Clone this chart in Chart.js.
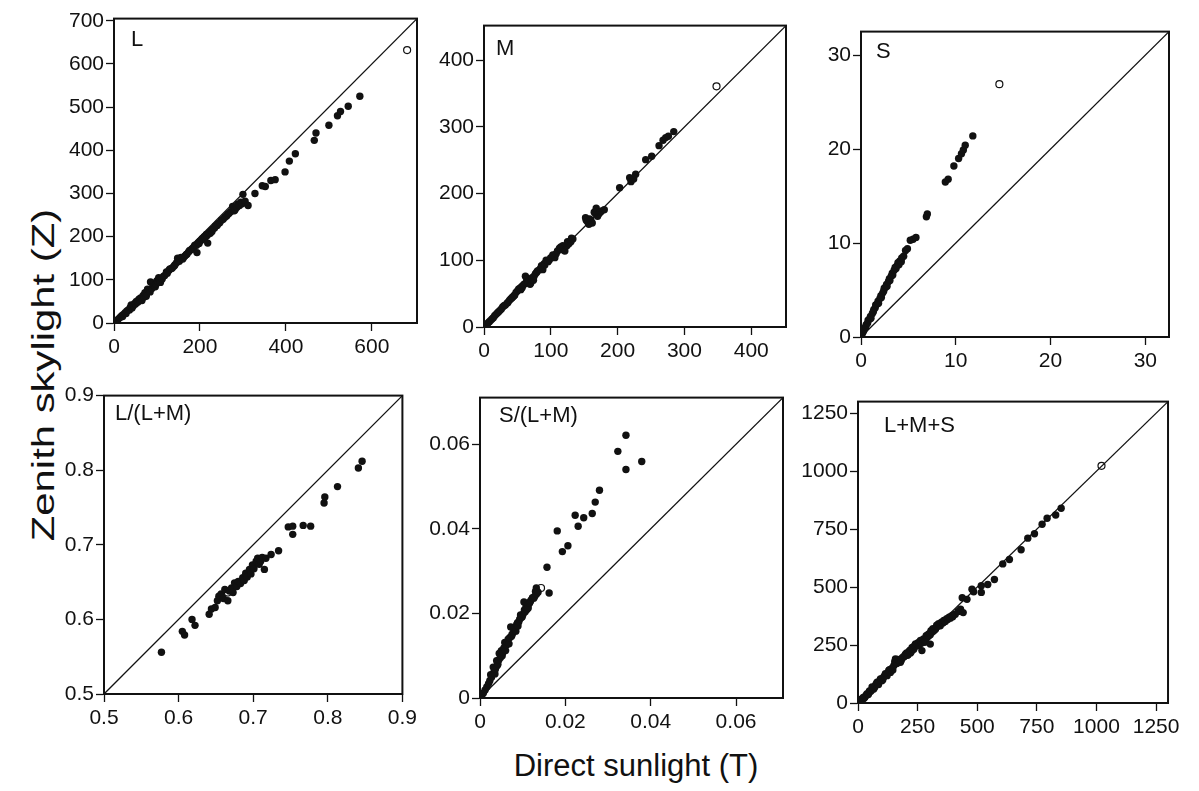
<!DOCTYPE html>
<html>
<head>
<meta charset="utf-8">
<script src="https://cdn.jsdelivr.net/npm/chart.js@4"></script>
<style>
  body { margin: 0; background: #fff; width: 1199px; height: 791px; position: relative; overflow: hidden;
         font-family: "Liberation Sans", Arial, sans-serif; color: #111; }
  .panel { position: absolute; }
  .ytitle { position: absolute; left: 44px; top: 375px; transform: translate(-50%, -50%) rotate(-90deg) scaleX(1.35);
            font-size: 31px; white-space: nowrap; }
  .xtitle { position: absolute; left: 636px; top: 766px; transform: translate(-50%, -50%);
            font-size: 31px; white-space: nowrap; }
</style>
</head>
<body>
<div class="ytitle">Zenith skylight (Z)</div>
<div class="xtitle">Direct sunlight (T)</div>

<script>
// panel names
var panelLabels = ['L', 'M', 'S', 'L/(L+M)', 'S/(L+M)', 'L+M+S'];

// [direct T, zenith Z] pairs, filled dots
var lPoints = [[3,2],[6,5],[10,9],[14,13],[18,17],[20,15],[22,20],[26,24],[28,22],[30,28],[34,31],[36,30],[38,36],[40,42],[42,35],[45,40],[48,45],[50,44],[52,50],[55,48],[56,50],[58,55],[60,52],[62,58],[65,52],[68,64],[70,60],[72,70],[75,62],[76,68],[78,78],[82,74],[84,72],[85,95],[88,80],[90,92],[92,88],[96,84],[98,90],[100,98],[104,105],[106,100],[108,94],[112,102],[115,108],[118,110],[122,118],[124,115],[128,122],[130,125],[134,126],[136,128],[140,132],[142,135],[146,140],[148,150],[152,143],[154,148],[156,152],[160,148],[162,152],[165,155],[168,158],[170,160],[174,165],[176,168],[180,170],[182,172],[186,176],[188,180],[192,180],[193,163],[196,186],[198,184],[200,190],[204,192],[205,195],[208,196],[210,200],[212,198],[215,205],[216,202],[218,185],[220,206],[222,210],[224,208],[226,214],[228,212],[230,218],[234,220],[236,225],[240,226],[242,230],[246,232],[250,238],[254,240],[258,245],[262,248],[265,252],[268,254],[272,258],[276,270],[280,260],[282,263],[286,268],[288,275],[292,272],[295,280],[298,276],[300,298],[305,282],[312,272],[328,300],[345,318],[352,316],[365,330],[375,332],[398,350],[408,375],[422,392],[466,423],[470,440],[500,458],[520,480],[527,490],[545,502],[572,525]];
var lOpen = [[682,632]];

var mPoints = [[2,2],[4,4],[6,6],[8,8],[10,10],[12,12],[14,14],[16,17],[18,19],[20,21],[22,23],[24,25],[26,27],[28,30],[30,32],[32,33],[35,36],[36,37],[38,40],[40,42],[42,44],[43,45],[45,47],[46,48],[48,52],[50,54],[52,57],[54,58],[55,56],[56,60],[57,59],[58,62],[60,64],[62,76],[63,66],[64,72],[65,72],[66,68],[68,70],[69,64],[70,66],[72,74],[74,70],[75,76],[77,80],[79,82],[80,84],[83,86],[85,88],[86,92],[88,86],[90,95],[91,93],[93,100],[96,98],[98,101],[100,104],[103,108],[106,104],[108,110],[110,114],[113,118],[115,120],[116,116],[118,122],[119,117],[121,114],[124,122],[125,128],[127,125],[130,128],[131,133],[133,132],[152,164],[153,160],[155,158],[157,154],[158,162],[160,160],[162,156],[165,172],[167,170],[168,178],[170,166],[172,170],[174,172],[176,174],[180,176],[203,209],[218,224],[220,218],[224,222],[227,229],[242,251],[251,256],[262,272],[268,280],[272,284],[276,286],[284,293]];
var mOpen = [[348,361]];

var sPoints = [[0.1,0.3],[0.2,0.5],[0.3,0.7],[0.35,0.9],[0.5,1.1],[0.55,1.3],[0.7,1.5],[0.75,1.8],[0.9,1.9],[1.0,2.2],[1.05,2.0],[1.2,2.5],[1.3,2.7],[1.35,2.9],[1.5,3.1],[1.55,3.4],[1.7,3.5],[1.8,3.8],[1.85,3.6],[2.0,4.1],[2.1,4.4],[2.15,4.2],[2.3,4.7],[2.4,4.9],[2.45,5.2],[2.6,5.3],[2.7,5.6],[2.75,5.4],[2.9,5.9],[3.0,6.2],[3.05,6.0],[3.2,6.5],[3.3,6.8],[3.35,6.6],[3.5,7.1],[3.6,7.4],[3.7,7.3],[3.8,7.6],[3.9,7.9],[4.0,7.7],[4.1,8.1],[4.25,8.0],[4.3,8.4],[4.5,8.6],[4.7,9.2],[4.9,9.4],[5.2,10.3],[5.5,10.4],[5.8,10.6],[6.9,12.8],[7.0,13.1],[8.9,16.5],[9.2,16.8],[9.8,18.2],[10.3,19.0],[10.6,19.5],[10.8,19.9],[11.0,20.4],[11.8,21.4]];
var sOpen = [[14.6,26.9]];

var lmPoints = [[0.577,0.556],[0.605,0.584],[0.608,0.579],[0.618,0.600],[0.622,0.592],[0.641,0.607],[0.644,0.614],[0.649,0.616],[0.652,0.625],[0.654,0.631],[0.657,0.634],[0.660,0.628],[0.662,0.640],[0.666,0.625],[0.668,0.638],[0.671,0.642],[0.673,0.636],[0.675,0.649],[0.678,0.644],[0.680,0.651],[0.683,0.648],[0.686,0.656],[0.688,0.652],[0.690,0.662],[0.692,0.657],[0.695,0.667],[0.697,0.661],[0.699,0.673],[0.701,0.668],[0.704,0.678],[0.706,0.682],[0.708,0.674],[0.710,0.678],[0.712,0.683],[0.715,0.667],[0.717,0.682],[0.724,0.687],[0.734,0.692],[0.747,0.724],[0.753,0.725],[0.753,0.714],[0.767,0.726],[0.777,0.725],[0.795,0.756],[0.796,0.764],[0.813,0.778],[0.841,0.803],[0.846,0.812]];
var lmOpen = [[0.666,0.636]];

var slmPoints = [[0.0004,0.0006],[0.0008,0.0012],[0.0012,0.0019],[0.0016,0.0026],[0.0020,0.0034],[0.0023,0.0041],[0.0025,0.0055],[0.0027,0.0049],[0.0031,0.0073],[0.0033,0.0062],[0.0035,0.0057],[0.0036,0.0068],[0.0039,0.0088],[0.0040,0.0076],[0.0042,0.0080],[0.0044,0.0090],[0.0045,0.0105],[0.0048,0.0096],[0.0050,0.0112],[0.0052,0.0100],[0.0054,0.0108],[0.0056,0.0118],[0.0058,0.0131],[0.0060,0.0112],[0.0062,0.0125],[0.0064,0.0132],[0.0066,0.0139],[0.0068,0.0128],[0.0070,0.0143],[0.0072,0.0168],[0.0074,0.0146],[0.0075,0.0150],[0.0078,0.0155],[0.0080,0.0166],[0.0082,0.0162],[0.0084,0.0158],[0.0086,0.0174],[0.0088,0.0178],[0.0089,0.0170],[0.0091,0.0180],[0.0093,0.0186],[0.0095,0.0196],[0.0097,0.0190],[0.0099,0.0192],[0.0101,0.0198],[0.0103,0.0227],[0.0104,0.0208],[0.0106,0.0204],[0.0108,0.0216],[0.0110,0.0209],[0.0112,0.0220],[0.0113,0.0213],[0.0116,0.0224],[0.0118,0.0228],[0.0120,0.0232],[0.0123,0.0237],[0.0126,0.0236],[0.0128,0.0240],[0.0130,0.0252],[0.0132,0.0260],[0.0132,0.0245],[0.0136,0.0250],[0.0157,0.0309],[0.0162,0.0248],[0.0181,0.0395],[0.0193,0.0346],[0.0206,0.0360],[0.0223,0.0432],[0.0230,0.0406],[0.0243,0.0426],[0.0263,0.0436],[0.0270,0.0463],[0.0280,0.0491],[0.0323,0.0583],[0.0342,0.0621],[0.0342,0.0540],[0.0379,0.0559]];
var slmOpen = [[0.0143,0.0260]];

var lmsPoints = [[6,5],[10,14],[12,10],[16,18],[18,15],[22,24],[24,19],[28,24],[30,27],[34,34],[38,40],[40,36],[44,38],[48,52],[52,50],[56,54],[59,69],[62,66],[66,60],[70,68],[72,74],[76,82],[80,90],[84,86],[86,80],[90,94],[94,104],[98,104],[100,96],[104,100],[108,112],[112,118],[115,126],[118,124],[122,118],[126,130],[129,140],[132,144],[136,132],[140,146],[143,150],[146,142],[150,161],[154,178],[157,190],[160,182],[163,170],[166,188],[171,183],[174,178],[178,176],[182,186],[186,195],[190,198],[193,200],[196,204],[199,211],[204,216],[207,206],[210,208],[214,222],[218,228],[220,216],[224,222],[227,240],[230,232],[234,232],[238,248],[241,255],[244,246],[248,254],[252,260],[256,248],[258,262],[262,270],[265,258],[268,226],[272,268],[275,276],[280,262],[282,270],[286,290],[290,282],[294,296],[297,290],[300,300],[303,294],[303,254],[306,312],[310,305],[314,320],[317,311],[320,316],[325,318],[330,336],[333,330],[338,342],[345,333],[350,348],[356,345],[360,356],[366,351],[372,364],[376,360],[382,370],[387,366],[392,376],[397,372],[400,380],[408,383],[420,395],[430,405],[437,454],[441,390],[457,447],[478,491],[485,480],[517,506],[517,477],[544,511],[572,533],[607,600],[635,619],[684,661],[712,711],[740,730],[772,771],[793,797],[829,811],[852,840]];
var lmsOpen = [[1021,1023]];

// axis ranges and tick values
var axisMin = [0, 0, 0, 0.5, 0, 0];
var axisMax = [705, 452, 32.5, 0.9, 0.071, 1300];
var lTicksX = [0, 200, 400, 600];
var lTicksY = [0, 100, 200, 300, 400, 500, 600, 700];
var mTicks = [0, 100, 200, 300, 400];
var sTicks = [0, 10, 20, 30];
var lmTicks = [0.5, 0.6, 0.7, 0.8, 0.9];
var slmTicks = [0, 0.02, 0.04, 0.06];
var lmsTicks = [0, 250, 500, 750, 1000, 1250];
var xTicks = [lTicksX, mTicks, sTicks, lmTicks, slmTicks, lmsTicks];
var yTicks = [lTicksY, mTicks, sTicks, lmTicks, slmTicks, lmsTicks];
var tickDecimals = [0, 0, 0, 1, 2, 0];

var filledSets = [lPoints, mPoints, sPoints, lmPoints, slmPoints, lmsPoints];
var openSets = [lOpen, mOpen, sOpen, lmOpen, slmOpen, lmsOpen];

// plot-area boxes on the page: left, top, width, height; label offsets
var boxes = [
  [114, 16, 303, 307],
  [484, 23, 302, 304],
  [861, 29, 308, 308],
  [104, 393, 303, 301],
  [480, 395, 303, 303],
  [858, 399, 312, 304]
];
var labelOffsets = [[17, 10], [12, 12], [15, 9], [11, 7], [19, 7], [26, 13]];

var YW = 80, PT = 12, PR = 14, XH = 42;
var FONT = '"Liberation Sans", Arial, sans-serif';

var framePlugin = {
  id: 'frame',
  afterDraw: function (chart, args, opts) {
    var a = chart.chartArea, ctx = chart.ctx;
    ctx.save();
    ctx.strokeStyle = '#111';
    ctx.lineWidth = 2;
    ctx.strokeRect(a.left, a.top, a.right - a.left, a.bottom - a.top);
    ctx.font = '22px ' + FONT;
    ctx.fillStyle = '#111';
    ctx.textBaseline = 'top';
    ctx.fillText(opts.label, a.left + opts.dx, a.top + opts.dy);
    ctx.restore();
  }
};

function toXY(list) {
  return list.map(function (p) { return { x: p[0], y: p[1] }; });
}

function axisFor(i, tickList, horizontal) {
  var dec = tickDecimals[i];
  return {
    type: 'linear',
    min: axisMin[i],
    max: axisMax[i],
    afterFit: function (scale) {
      if (horizontal) scale.height = XH; else scale.width = YW;
    },
    afterBuildTicks: function (scale) {
      scale.ticks = tickList.map(function (v) { return { value: v }; });
    },
    ticks: {
      autoSkip: false,
      maxRotation: 0,
      color: '#111',
      padding: horizontal ? 4 : 2,
      font: { size: 21, family: FONT },
      callback: function (v) { return v === 0 ? '0' : Number(v).toFixed(dec); }
    },
    grid: { drawOnChartArea: false, drawTicks: true, tickLength: 8, tickColor: '#111', tickWidth: 1.3 },
    border: { display: true, color: '#111', width: 1.5 }
  };
}

for (var i = 0; i < 6; i++) {
  var b = boxes[i];
  var div = document.createElement('div');
  div.className = 'panel';
  div.style.left = (b[0] - YW) + 'px';
  div.style.top = (b[1] - PT) + 'px';
  div.style.width = (b[2] + YW + PR) + 'px';
  div.style.height = (b[3] + PT + XH) + 'px';
  var canvas = document.createElement('canvas');
  div.appendChild(canvas);
  document.body.appendChild(div);

  new Chart(canvas.getContext('2d'), {
    type: 'scatter',
    data: {
      datasets: [
        {
          type: 'line',
          data: [{ x: axisMin[i], y: axisMin[i] }, { x: axisMax[i], y: axisMax[i] }],
          borderColor: '#111',
          borderWidth: 1.3,
          pointRadius: 0,
          fill: false
        },
        {
          data: toXY(filledSets[i]),
          backgroundColor: '#111',
          borderColor: '#111',
          borderWidth: 0,
          pointRadius: 3.7
        },
        {
          data: toXY(openSets[i]),
          backgroundColor: '#fff',
          borderColor: '#111',
          borderWidth: 1.2,
          pointRadius: 3.5
        }
      ]
    },
    options: {
      responsive: true,
      maintainAspectRatio: false,
      animation: false,
      layout: { padding: { top: PT, right: PR, left: 0, bottom: 0 } },
      scales: {
        x: axisFor(i, xTicks[i], true),
        y: axisFor(i, yTicks[i], false)
      },
      plugins: {
        legend: { display: false },
        tooltip: { enabled: false },
        frame: { label: panelLabels[i], dx: labelOffsets[i][0], dy: labelOffsets[i][1] }
      }
    },
    plugins: [framePlugin]
  });
}
</script>
</body>
</html>
